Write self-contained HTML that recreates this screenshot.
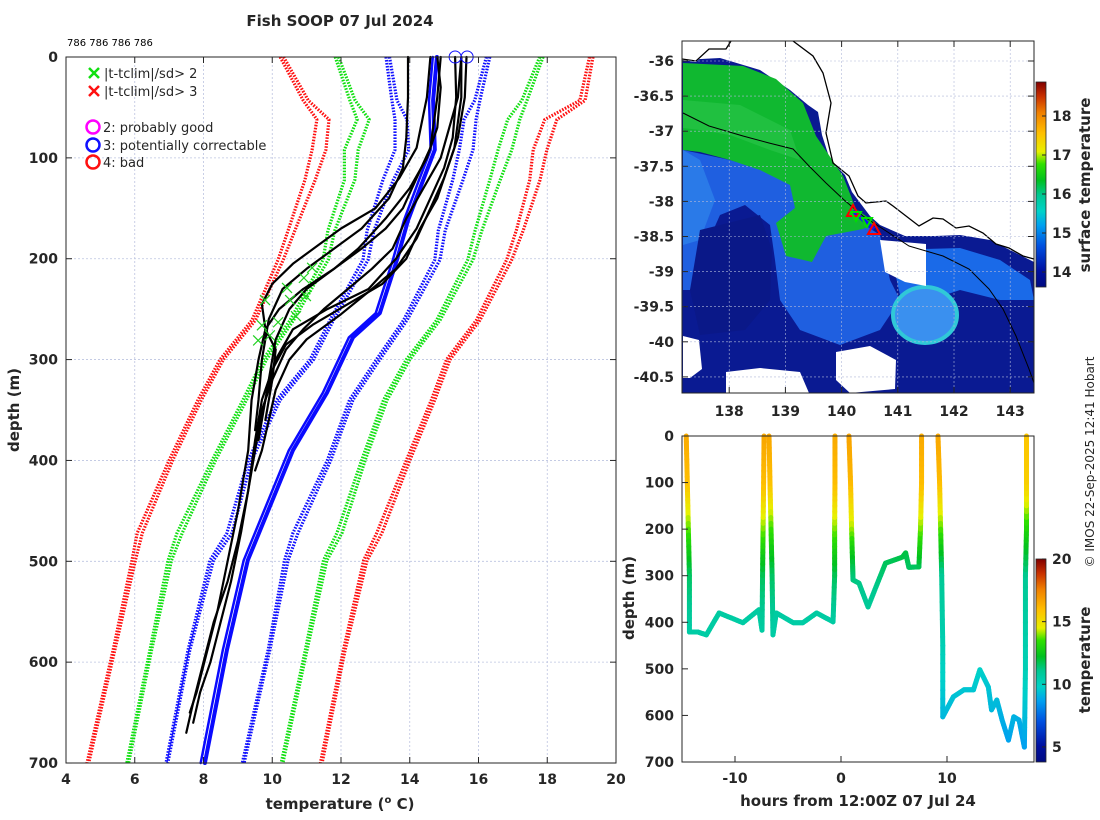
<!DOCTYPE html>
<html><head><meta charset="utf-8"><style>
html,body{margin:0;padding:0;background:#fff;}
svg{display:block;font-family:"DejaVu Sans","Liberation Sans",sans-serif;}
.tk{font-size:14px;font-weight:bold;fill:#262626;}
.al{font-size:15px;font-weight:bold;fill:#262626;}
</style></head><body>
<svg id="fig" width="1100" height="820" viewBox="0 0 1100 820" xmlns="http://www.w3.org/2000/svg">
<defs>
<linearGradient id="cb1" x1="0" y1="1" x2="0" y2="0">
<stop offset="0" stop-color="#000a80"/><stop offset="0.08" stop-color="#0010a0"/><stop offset="0.2" stop-color="#0050e0"/><stop offset="0.3" stop-color="#00a0f0"/><stop offset="0.37" stop-color="#00d2c8"/><stop offset="0.45" stop-color="#00c890"/><stop offset="0.52" stop-color="#00c020"/><stop offset="0.6" stop-color="#30e000"/><stop offset="0.66" stop-color="#e8f000"/><stop offset="0.75" stop-color="#ffc000"/><stop offset="0.85" stop-color="#f08000"/><stop offset="0.93" stop-color="#c83000"/><stop offset="1" stop-color="#800000"/>
</linearGradient>
</defs>
</svg>
<script>
// ---------- main profile chart data ----------
const climDepths = [0,43,62,92,122,172,201,261,300,340,400,472,499,588,700];
const redLeft   = [10.23,10.9,11.3,11.16,10.95,10.46,10.17,9.41,8.48,7.84,7.0,6.07,5.92,5.37,4.61];
const greenLeft = [11.83,12.26,12.47,12.1,12.1,11.62,11.48,10.52,9.73,9.15,8.25,7.23,6.97,6.44,5.77];
const blueLeft  = [13.31,13.48,13.57,13.57,13.22,12.76,12.64,11.68,11.1,10.13,9.3,8.68,8.19,7.55,6.91];
const blueRight = [16.33,16.04,15.93,15.84,15.55,15.03,14.88,13.92,13.13,12.35,11.7,10.75,10.46,9.93,9.18];
const greenRight= [17.88,17.41,17.2,16.97,16.63,16.1,15.84,14.88,14.0,13.34,12.7,12.03,11.59,11.01,10.31];
const redRight  = [19.33,19.1,18.28,17.99,17.79,17.3,16.97,16.04,15.17,14.73,14.0,13.19,12.76,12.12,11.45];
const pairOffset= [0.1,0.15,0.35,0.4,0.3,0.2,0.15,0.1,0.1,0.1,0.1,0.15,0.1,0.05,0.05];

const blueProfDepths = [0,43,92,122,162,201,254,278,333,390,499,588,700];
const blueProfTemps  = [14.79,14.68,14.73,14.39,13.95,13.63,13.13,12.35,11.59,10.6,9.29,8.68,8.04];

const profA_d=[0,40,80,110,140,170,200,230,250,270,300,340,370];
const profA_t=[15.32,15.35,15.25,15.0,14.6,14.2,13.6,12.8,11.6,10.6,10.1,9.8,9.6];
const profB_d=[0,40,80,110,140,170,200,225,245,265,285,310,340,380,430,480,520,560,600,640,670];
const profB_t=[15.65,15.6,15.4,15.1,14.8,14.3,13.9,13.2,12.2,11.2,10.4,10.0,9.7,9.5,9.3,9.0,8.7,8.3,8.0,7.7,7.5];
const profC_d=[0,30,70,100,130,160,190,210,230,250,280,320,360,380];
const profC_t=[14.8,14.9,14.8,14.5,14.0,13.3,12.5,11.8,11.0,10.5,10.1,9.9,9.7,9.6];
const profD_d=[0,40,80,110,140,170,190,210,230,260,300,340,370];
const profD_t=[13.95,13.95,13.9,13.8,13.4,12.6,11.8,11.0,10.3,9.9,9.7,9.6,9.5];
const profE_d=[0,40,90,120,150,170,190,205,225,245,270,290,320,360];
const profE_t=[14.6,14.5,14.2,13.7,13.0,12.0,11.2,10.6,10.0,9.7,9.8,10.1,10.0,9.8];
const profF_d=[0,40,100,130,160,190,210,230,250,270,290,320,350,390,430,470,520,560,600,630,660];
const profF_t=[15.5,15.4,14.9,14.4,13.9,13.5,12.9,12.2,11.5,10.9,10.4,10.0,9.7,9.5,9.3,9.1,8.8,8.5,8.2,7.9,7.7];
const profG_d=[0,40,90,120,150,180,210,230,255,280,300,330,360,390,410];
const profG_t=[15.5,15.5,15.3,15.0,14.6,14.2,13.6,12.9,12.0,11.0,10.5,10.1,9.9,9.7,9.5];
const profH_d=[0,40,90,120,150,170,190,210,230,250,270,300,340,390,450,500,550,590,630,650];
const profH_t=[14.9,14.8,14.6,14.2,13.8,13.3,12.6,11.8,10.9,10.2,9.8,9.6,9.4,9.3,9.0,8.7,8.4,8.1,7.8,7.6];

const flagTemps  = [11.16,10.92,10.43,9.70,9.59,10.17,10.69,10.98,9.93,9.79,10.52];
const flagDepths = [209,219,229,266,281,263,257,237,276,241,241];
const circleTemps = [15.32,15.67];

const xTicks = [4,6,8,10,12,14,16,18,20];
const yTicks = [0,100,200,300,400,500,600,700];

// ---------- time-depth chart data ----------
const cast1_t=[-14.6,-14.5,-14.4,-14.3,-14.3,-13.5,-12.7,-11.5,-9.25,-7.74,-7.45,-7.4,-7.35,-7.3,-7.26];
const cast1_d=[0,100,200,300,421,421,427,380,401,373,417,300,200,100,0];
const cast1_T=[16.5,16.0,13.8,11.6,10.6,10.6,10.6,10.7,10.6,10.7,10.6,11.6,13.8,16.0,16.6];
const cast2_t=[-6.79,-6.7,-6.6,-6.5,-6.42,-6.1,-4.5,-3.6,-2.3,-0.75,-0.6,-0.6,-0.57,-0.57];
const cast2_d=[0,100,200,300,427,380,401,401,380,399,300,200,100,0];
const cast2_T=[16.6,16.0,13.6,11.6,10.6,10.7,10.6,10.6,10.7,10.6,11.6,13.8,16.0,16.5];
const cast3_t=[0.75,0.9,1.0,1.1,1.13,1.7,2.55,3.3,4.2,5.8,6.1,6.4,7.35,7.5,7.6,7.6];
const cast3_d=[0,100,200,280,309,316,367,324,273,260,251,282,281,200,100,0];
const cast3_T=[16.7,16.2,14.2,11.8,11.3,11.2,10.9,11.1,11.6,11.8,11.9,11.6,11.6,13.8,16.0,16.5];
const cast4_t=[9.15,9.3,9.4,9.5,9.6,9.6,10.6,11.6,12.5,13.1,13.9,14.2,14.7,15.2,15.8,16.3,16.8,17.3,17.4,17.4,17.5,17.5,17.5];
const cast4_d=[0,100,200,300,450,603,560,545,545,502,539,588,567,610,653,603,610,668,500,300,200,100,0];
const cast4_T=[16.6,16.1,13.8,11.0,10.3,9.2,9.4,9.5,9.5,9.8,9.5,9.2,9.3,9.0,8.7,9.1,9.0,8.6,10.2,11.0,13.0,15.5,15.8];
const tTicks=[-10,0,10];
const dTicks=[0,100,200,300,400,500,600,700];
const cb2Ticks=[5,10,15,20];
const cb1Ticks=[14,15,16,17,18];
const lonTicks=[138,139,140,141,142,143];
const latTicks=[-36,-36.5,-37,-37.5,-38,-38.5,-39,-39.5,-40,-40.5];

// ---------- helpers ----------
const NS="http://www.w3.org/2000/svg";
const svg=document.getElementById('fig');
function mk(tag,attrs,parent){const e=document.createElementNS(NS,tag);for(const k in attrs)e.setAttribute(k,attrs[k]);(parent||svg).appendChild(e);return e;}
function txt(s,attrs,parent){const e=mk('text',attrs,parent);e.textContent=s;return e;}

const xT=t=>66+(t-4)*34.375;
const yD=d=>57+d*1.0086;
const xt=t=>841+t*10.6;
const yd=d=>436+d*0.4657;
const xLon=l=>682+(l-137.16)*56.2;
const yLat=l=>61+(-36-l)*70.2;

// ===== main panel =====
const gMain=mk('g',{});


xTicks.slice(1,-1).forEach(v=>{const l=mk('line',{x1:xT(v),x2:xT(v),y1:57,y2:763,stroke:'#bcc4e0','stroke-width':0.8,'stroke-dasharray':'2 2'},gMain);});
yTicks.slice(1,-1).forEach(v=>{const l=mk('line',{x1:66,x2:616,y1:yD(v),y2:yD(v),stroke:'#bcc4e0','stroke-width':0.8,'stroke-dasharray':'2 2'},gMain);});

function polyT(ts,ds,attrs,name,off,sign){
  const pts=ts.map((t,i)=>xT(t+(off?off[i]*sign:0)).toFixed(1)+','+yD(ds[i]).toFixed(1)).join(' ');
  const p=mk('polyline',Object.assign({points:pts,fill:'none','stroke-linejoin':'round','stroke-linecap':'round'},attrs),gMain);
  
  
  return p;
}
const dot={'stroke-width':3.2,'stroke-dasharray':'1.6 1.4','stroke-linecap':'butt'};
[[redLeft,'#ff1010',1,'clim-minus-3sd'],[greenLeft,'#10e010',1,'clim-minus-2sd'],[blueLeft,'#1010ff',1,'clim-minus-1sd'],
 [blueRight,'#1010ff',-1,'clim-plus-1sd'],[greenRight,'#10e010',-1,'clim-plus-2sd'],[redRight,'#ff1010',-1,'clim-plus-3sd']].forEach(c=>{
  polyT(c[0],climDepths,Object.assign({stroke:c[1]},dot),c[3],null,0);
  polyT(c[0],climDepths,Object.assign({stroke:c[1]},dot),c[3]+'-pair',pairOffset,c[2]);
});
polyT(blueProfTemps,blueProfDepths,{stroke:'#0a0aff','stroke-width':4},'flagged-profile',null,0);
polyT(blueProfTemps,blueProfDepths,{stroke:'#0a0aff','stroke-width':2.5},'flagged-profile-2',pairOffset.map(()=>0.12),-1);
[[profA_t,profA_d],[profB_t,profB_d],[profC_t,profC_d],[profD_t,profD_d],[profE_t,profE_d],[profF_t,profF_d],[profG_t,profG_d],[profH_t,profH_d]].forEach((p,i)=>{
  polyT(p[0],p[1],{stroke:'#000','stroke-width':2.2},'xbt-profile-'+(i+1),null,0);
});
flagTemps.forEach((t,i)=>{
  const x=xT(t),y=yD(flagDepths[i]),s=5;
  const p=mk('path',{d:`M${x-s},${y-s}L${x+s},${y+s}M${x-s},${y+s}L${x+s},${y-s}`,stroke:'#20d020','stroke-width':1.2,fill:'none'},gMain);
  
  
});
circleTemps.forEach(t=>{
  const c=mk('circle',{cx:xT(t),cy:yD(0),r:6,fill:'none',stroke:'#1010ff','stroke-width':1},gMain);
  
  
});
const fr=mk('rect',{x:66,y:57,width:550,height:706,fill:'none',stroke:'#262626','stroke-width':1},gMain);

xTicks.forEach(v=>{
  mk('line',{x1:xT(v),x2:xT(v),y1:763,y2:757,stroke:'#262626'},gMain);
  mk('line',{x1:xT(v),x2:xT(v),y1:57,y2:63,stroke:'#262626'},gMain);
  const t=txt(v,{x:xT(v),y:784,'text-anchor':'middle',class:'tk'},gMain);
  
});
yTicks.forEach(v=>{
  mk('line',{x1:66,x2:72,y1:yD(v),y2:yD(v),stroke:'#262626'},gMain);
  mk('line',{x1:616,x2:610,y1:yD(v),y2:yD(v),stroke:'#262626'},gMain);
  const t=txt(v,{x:58,y:yD(v)+5,'text-anchor':'end',class:'tk'},gMain);
  
});
</script>
<script>
// ===== bottom-right time-depth panel =====
function cmap(T,lo,hi){
  const stops=[[0,[0,10,128]],[0.08,[0,16,160]],[0.2,[0,80,224]],[0.3,[0,160,240]],[0.37,[0,210,200]],[0.45,[0,200,144]],[0.52,[0,192,32]],[0.6,[48,224,0]],[0.66,[232,240,0]],[0.75,[255,192,0]],[0.85,[240,128,0]],[0.93,[200,48,0]],[1,[128,0,0]]];
  let f=(T-lo)/(hi-lo);f=Math.max(0,Math.min(1,f));
  for(let i=1;i<stops.length;i++){if(f<=stops[i][0]){const a=stops[i-1],b=stops[i];const u=(f-a[0])/(b[0]-a[0]);const c=a[1].map((v,k)=>Math.round(v+(b[1][k]-v)*u));return `rgb(${c[0]},${c[1]},${c[2]})`;}}
  return 'rgb(128,0,0)';
}
const gTD=mk('g',{});


[[cast1_t,cast1_d,cast1_T],[cast2_t,cast2_d,cast2_T],[cast3_t,cast3_d,cast3_T],[cast4_t,cast4_d,cast4_T]].forEach((c,ci)=>{
  const g=mk('g',{},gTD);
  
  
  for(let i=0;i<c[0].length-1;i++){
    const n=8;
    for(let k=0;k<n;k++){
      const u0=k/n,u1=(k+1)/n;
      const x0=xt(c[0][i]+(c[0][i+1]-c[0][i])*u0),x1=xt(c[0][i]+(c[0][i+1]-c[0][i])*u1);
      const y0=yd(c[1][i]+(c[1][i+1]-c[1][i])*u0),y1=yd(c[1][i]+(c[1][i+1]-c[1][i])*u1);
      const T=c[2][i]+(c[2][i+1]-c[2][i])*(u0+u1)/2;
      mk('line',{x1:x0,y1:y0,x2:x1,y2:y1,stroke:cmap(T,3.8,20),'stroke-width':5,'stroke-linecap':'round'},g);
    }
  }
});
const fr2=mk('rect',{x:682,y:436,width:352,height:326,fill:'none',stroke:'#262626'},gTD);

tTicks.forEach(v=>{mk('line',{x1:xt(v),x2:xt(v),y1:762,y2:756,stroke:'#262626'},gTD);
  const t=txt(v,{x:xt(v),y:783,'text-anchor':'middle',class:'tk'},gTD);});
dTicks.forEach(v=>{mk('line',{x1:682,x2:688,y1:yd(v),y2:yd(v),stroke:'#262626'},gTD);
  const t=txt(v,{x:674,y:yd(v)+5,'text-anchor':'end',class:'tk'},gTD);});
const cbr2=mk('rect',{x:1036,y:559,width:10,height:203,fill:'url(#cb1)',stroke:'#262626','stroke-width':0.8});

cb2Ticks.forEach(v=>{const y=559+(20-v)*12.53;mk('line',{x1:1046,x2:1042,y1:y,y2:y,stroke:'#262626'});
  const t=txt(v,{x:1052,y:y+5,class:'tk'});});

// ===== map panel =====
const gMap=mk('g',{});


const clip=mk('clipPath',{id:'mapclip'},svg.querySelector('defs'));
mk('rect',{x:682,y:41,width:352,height:352},clip);
const gm=mk('g',{'clip-path':'url(#mapclip)'},gMap);
function poly(pts,fill,name,extra){const p=mk('polygon',Object.assign({points:pts,fill:fill},extra||{}),gm);return p;}
poly('682,60 696,62 709,50 726,50 731,41 793,41 813,56 823,73 831,103 826,133 833,163 849,176 858,196 866,203 886,201 893,206 906,216 919,226 933,218 943,219 956,228 969,226 983,233 996,244 1009,248 1023,256 1034,259 1034,393 682,393','#0a1a92','ocean-data');
poly('682,60 720,58 760,70 790,90 808,105 818,112 822,135 830,160 845,175 852,192 858,200 870,216 880,225 905,236 935,236 960,235 990,240 1010,250 1034,262 1034,41 682,41','#ffffff','land-no-data');
poly('683,150 730,160 780,175 815,185 850,215 880,235 890,280 900,300 880,330 840,345 800,330 780,300 775,260 770,225 745,205 720,215 700,260 690,290 683,290','#1f5fe0','warm-blue-region');
poly('683,150 700,160 715,200 700,240 683,245','#2a7ae8','west-blue-patch');
poly('683,63 743,66 776,79 803,103 816,136 843,176 856,209 876,223 863,229 826,236 812,262 786,256 776,223 795,208 790,185 760,170 730,160 700,152 683,150','#10b830','green-warm-core');
poly('683,100 740,105 790,130 800,160 770,150 730,135 700,130 683,128','#20c040','green-band');
poly('890,250 960,248 1000,260 1030,280 1034,300 1000,300 960,290 930,300 900,295','#1a6ae8','coastal-blue-band');
poly('700,230 760,215 772,250 770,300 745,330 700,335 690,290','#0a1888','cold-region');
const eddy=mk('ellipse',{cx:925,cy:315,rx:32,ry:28,fill:'#3a90ef',stroke:'#30c8d8','stroke-width':4},gm);

poly('880,240 926,244 926,286 905,282 885,272','#ffffff','cloud-gap');
poly('683,336 699,340 702,369 690,378 683,378','#ffffff','cloud-gap-sw');
poly('726,372 760,368 800,372 809,393 726,393','#ffffff','cloud-gap-s');
poly('836,352 870,346 896,360 895,389 850,393 836,380','#ffffff','cloud-gap-se');
const coast=mk('polyline',{points:'793,41 813,56 823,73 831,103 826,133 833,163 849,176 858,196 866,203 886,201 893,206 906,216 919,226 933,218 943,219 956,228 969,226 983,233 996,244 1009,248 1023,256 1034,259',fill:'none',stroke:'#000','stroke-width':1.3},gm);

const coast2=mk('polyline',{points:'682,59 696,61 709,49 726,49 731,41',fill:'none',stroke:'#000','stroke-width':1.3},gm);

const shelf=mk('polyline',{points:'683,113 709,126 743,136 769,143 793,149 809,166 826,183 843,199 863,216 883,229 909,246 943,256 969,269 989,289 1003,309 1016,336 1029,369 1034,383',fill:'none',stroke:'#000','stroke-width':1},gm);

const trk=mk('polyline',{points:'853,211 874,229',stroke:'#1010ff','stroke-width':4,fill:'none'},gm);

[[853,212],[874,230]].forEach(p=>{const t=mk('polygon',{points:`${p[0]},${p[1]-7} ${p[0]-6},${p[1]+4} ${p[0]+6},${p[1]+4}`,fill:'none',stroke:'#ff0000','stroke-width':2},gm);});
[[856,216],[867,222]].forEach(p=>{const t=mk('polygon',{points:`${p[0]-5},${p[1]-4} ${p[0]+5},${p[1]-4} ${p[0]},${p[1]+5}`,fill:'none',stroke:'#00e000','stroke-width':2},gm);});
lonTicks.forEach(v=>{const l=mk('line',{x1:xLon(v),x2:xLon(v),y1:41,y2:393,stroke:'#b0b8d8','stroke-width':0.6,'stroke-dasharray':'2 2'},gMap);});
latTicks.forEach(v=>{const l=mk('line',{x1:682,x2:1034,y1:yLat(v),y2:yLat(v),stroke:'#b0b8d8','stroke-width':0.6,'stroke-dasharray':'2 2'},gMap);});
const fr3=mk('rect',{x:682,y:41,width:352,height:352,fill:'none',stroke:'#262626'},gMap);

lonTicks.forEach(v=>{mk('line',{x1:xLon(v),x2:xLon(v),y1:393,y2:387,stroke:'#262626'},gMap);mk('line',{x1:xLon(v),x2:xLon(v),y1:41,y2:47,stroke:'#262626'},gMap);
  const t=txt(v,{x:xLon(v),y:416,'text-anchor':'middle',class:'tk'},gMap);});
latTicks.forEach(v=>{mk('line',{x1:682,x2:688,y1:yLat(v),y2:yLat(v),stroke:'#262626'},gMap);mk('line',{x1:1034,x2:1028,y1:yLat(v),y2:yLat(v),stroke:'#262626'},gMap);
  const t=txt(v,{x:674,y:yLat(v)+5,'text-anchor':'end',class:'tk'},gMap);});
const cbr1=mk('rect',{x:1036,y:82,width:10,height:205,fill:'url(#cb1)',stroke:'#262626','stroke-width':0.8});

cb1Ticks.forEach(v=>{const y=272-(v-14)*39;mk('line',{x1:1046,x2:1042,y1:y,y2:y,stroke:'#262626'});
  const t=txt(v,{x:1052,y:y+5,class:'tk'});});
</script>
<script>
function lab(s,attrs,name){const t=txt(s,attrs);return t;}
lab('Fish SOOP 07 Jul 2024',{x:340,y:26,'text-anchor':'middle',class:'al'},'chart-title');
lab('786 786 786 786',{x:67,y:46,style:'font-size:10px;fill:#000'},'profile-ids');
lab('depth (m)',{x:0,y:0,transform:'translate(19,410) rotate(-90)','text-anchor':'middle',class:'al'},'y-axis-title');
const xl=lab('temperature (',{x:340,y:809,'text-anchor':'middle',class:'al'},'x-axis-title');
xl.innerHTML='temperature (<tspan dy="-6" style="font-size:10px">o</tspan><tspan dy="6"> C)</tspan>';
lab('depth (m)',{x:0,y:0,transform:'translate(634,598) rotate(-90)','text-anchor':'middle',class:'al'},'depth-axis-title');
lab('hours from 12:00Z 07 Jul 24',{x:858,y:806,'text-anchor':'middle',class:'al'},'time-axis-title');
lab('surface temperature',{x:0,y:0,transform:'translate(1090,185) rotate(-90)','text-anchor':'middle',class:'al'},'sst-colorbar-title');
lab('temperature',{x:0,y:0,transform:'translate(1090,660) rotate(-90)','text-anchor':'middle',class:'al'},'colorbar-title');
lab('© IMOS 22-Sep-2025 12:41 Hobart',{x:0,y:0,transform:'translate(1094,462) rotate(-90)','text-anchor':'middle',style:'font-size:12px;fill:#262626'},'copyright-note');
const lg=mk('g',{});
[['|t-tclim|/sd> 2','#10e010',73],['|t-tclim|/sd> 3','#ff1010',91]].forEach(e=>{
  const p=mk('path',{d:`M89,${e[2]-5}L99,${e[2]+5}M89,${e[2]+5}L99,${e[2]-5}`,stroke:e[1],'stroke-width':2.5},lg);
  
  const t=txt(e[0],{x:104,y:e[2]+5,style:'font-size:13px;fill:#262626'},lg);
});
[['2: probably good','#ff00ff',127],['3: potentially correctable','#1010ff',145],['4: bad','#ff1010',162]].forEach(e=>{
  const c=mk('circle',{cx:93,cy:e[2],r:6.5,fill:'none',stroke:e[1],'stroke-width':2.5},lg);
  
  const t=txt(e[0],{x:103,y:e[2]+5,style:'font-size:13px;fill:#262626'},lg);
});
</script>
</body></html>
